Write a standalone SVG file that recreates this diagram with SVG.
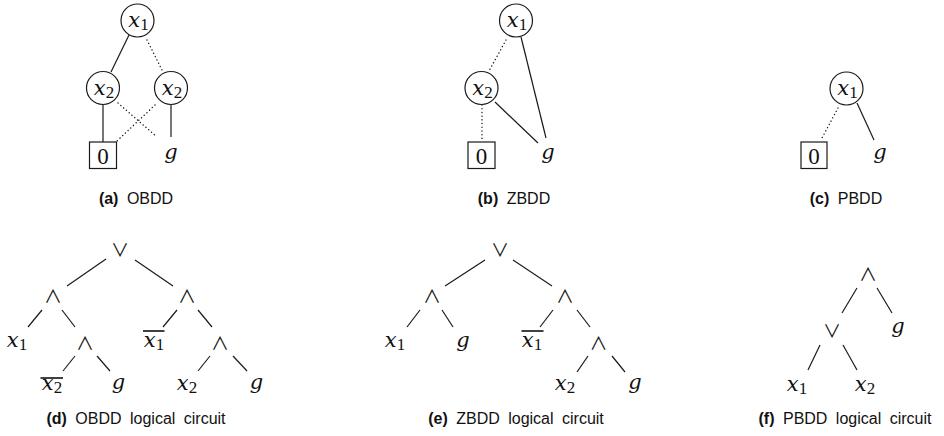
<svg xmlns="http://www.w3.org/2000/svg" width="944" height="436" viewBox="0 0 944 436">
<style>
.e{stroke:#1a1a1a;stroke-width:1.2;fill:none}
.d{stroke:#1a1a1a;stroke-width:1.4;stroke-dasharray:0.1 3.6;stroke-linecap:round;fill:none}
.n{fill:#fff;stroke:#1a1a1a;stroke-width:1.2}
.ob{stroke:#111;stroke-width:1.6}
.m{font-family:"DejaVu Serif",serif;font-style:italic;font-size:21px;fill:#111;text-anchor:middle}
.s{font-family:"Liberation Serif",serif;font-style:normal;font-size:17px}
.z{font-family:"Liberation Serif",serif;font-size:23px;fill:#111;text-anchor:middle}
.op{font-family:"Noto Sans CJK JP",sans-serif;font-size:18px;fill:#111;text-anchor:middle}
.cap{font-family:"Liberation Sans",sans-serif;font-size:16px;fill:#111;text-anchor:middle;word-spacing:4px}
.b{font-weight:bold}
</style>
<g id="connectors">
<!-- (a) -->
<line class="e" x1="129" y1="35" x2="111" y2="72"/>
<line class="d" x1="147" y1="40" x2="163" y2="72"/>
<line class="e" x1="103" y1="105" x2="103" y2="142"/>
<line class="e" x1="171" y1="105" x2="171" y2="137"/>
<line class="d" x1="118" y1="103" x2="157" y2="137"/>
<line class="d" x1="155" y1="105" x2="117" y2="141"/>
<!-- (b) -->
<line class="d" x1="506" y1="40" x2="489" y2="71"/>
<line class="e" x1="521" y1="37" x2="546" y2="138"/>
<line class="e" x1="495" y1="102" x2="538" y2="143"/>
<line class="d" x1="482" y1="105" x2="482" y2="140"/>
<!-- (c) -->
<line class="d" x1="838" y1="108" x2="822" y2="138"/>
<line class="e" x1="857" y1="103" x2="874" y2="140"/>
<!-- (d) -->
<line class="e" x1="106" y1="259" x2="67" y2="286"/>
<line class="e" x1="135" y1="260" x2="173" y2="286"/>
<line class="e" x1="42" y1="310" x2="28" y2="327"/>
<line class="e" x1="62" y1="310" x2="75" y2="327"/>
<line class="e" x1="75" y1="356" x2="63" y2="371"/>
<line class="e" x1="97" y1="356" x2="110" y2="371"/>
<line class="e" x1="177" y1="310" x2="163" y2="327"/>
<line class="e" x1="198" y1="310" x2="212" y2="327"/>
<line class="e" x1="210" y1="356" x2="198" y2="371"/>
<line class="e" x1="233" y1="356" x2="247" y2="371"/>
<!-- (e) -->
<line class="e" x1="485" y1="260" x2="445" y2="286"/>
<line class="e" x1="513" y1="260" x2="552" y2="286"/>
<line class="e" x1="420" y1="310" x2="407" y2="327"/>
<line class="e" x1="442" y1="310" x2="453" y2="327"/>
<line class="e" x1="553" y1="310" x2="540" y2="327"/>
<line class="e" x1="577" y1="310" x2="590" y2="327"/>
<line class="e" x1="588" y1="356" x2="577" y2="372"/>
<line class="e" x1="612" y1="356" x2="625" y2="372"/>
<!-- (f) -->
<line class="e" x1="857" y1="288" x2="842" y2="313"/>
<line class="e" x1="877" y1="288" x2="892" y2="313"/>
<line class="e" x1="820" y1="345" x2="808" y2="370"/>
<line class="e" x1="843" y1="345" x2="857" y2="370"/>
</g>
<!-- (a) OBDD -->
<g id="a-x1"><circle class="n" cx="137.5" cy="20.5" r="16.5"/><text class="m" x="138.5" y="27">x<tspan class="s" dy="3">1</tspan></text></g>
<g id="a-x2l"><circle class="n" cx="103" cy="88" r="16.5"/><text class="m" x="104" y="94.5">x<tspan class="s" dy="3">2</tspan></text></g>
<g id="a-x2r"><circle class="n" cx="171" cy="88" r="16.5"/><text class="m" x="172" y="94.5">x<tspan class="s" dy="3">2</tspan></text></g>
<g id="a-0"><rect class="n" x="89.5" y="142" width="27" height="26.5"/><text class="z" x="103" y="163.5">0</text></g>
<g id="a-g"><text class="m" x="171" y="159">g</text></g>
<g id="a-cap"><text class="cap" x="136" y="204"><tspan class="b">(a)</tspan> OBDD</text></g>
<!-- (b) ZBDD -->
<g id="b-x1"><circle class="n" cx="516" cy="20.5" r="16.5"/><text class="m" x="517" y="27">x<tspan class="s" dy="3">1</tspan></text></g>
<g id="b-x2"><circle class="n" cx="481.5" cy="88" r="16.5"/><text class="m" x="482.5" y="94.5">x<tspan class="s" dy="3">2</tspan></text></g>
<g id="b-0"><rect class="n" x="468" y="142" width="27" height="26.5"/><text class="z" x="481.5" y="163.5">0</text></g>
<g id="b-g"><text class="m" x="548" y="159">g</text></g>
<g id="b-cap"><text class="cap" x="514" y="204"><tspan class="b">(b)</tspan> ZBDD</text></g>
<!-- (c) PBDD -->
<g id="c-x1"><circle class="n" cx="846.5" cy="88.5" r="16.5"/><text class="m" x="847.5" y="95">x<tspan class="s" dy="3">1</tspan></text></g>
<g id="c-0"><rect class="n" x="801" y="142" width="26" height="26.5"/><text class="z" x="814" y="163.5">0</text></g>
<g id="c-g"><text class="m" x="880" y="159">g</text></g>
<g id="c-cap"><text class="cap" x="846" y="204"><tspan class="b">(c)</tspan> PBDD</text></g>
<!-- (d) OBDD circuit -->
<g id="d-or"><text class="op" x="120" y="257">∨</text></g>
<g id="d-and1"><text class="op" x="53" y="303">∧</text></g>
<g id="d-x1"><text class="m" x="17" y="347">x<tspan class="s" dy="3">1</tspan></text></g>
<g id="d-and2"><text class="op" x="85" y="350">∧</text></g>
<g id="d-nx2"><text class="m" x="52" y="390">x<tspan class="s" dy="3">2</tspan></text><line class="ob" x1="40.5" y1="378" x2="63" y2="378"/></g>
<g id="d-g1"><text class="m" x="118.5" y="389">g</text></g>
<g id="d-and3"><text class="op" x="187" y="303">∧</text></g>
<g id="d-nx1"><text class="m" x="154" y="347">x<tspan class="s" dy="3">1</tspan></text><line class="ob" x1="143" y1="331" x2="164.5" y2="331"/></g>
<g id="d-and4"><text class="op" x="220" y="350">∧</text></g>
<g id="d-x2"><text class="m" x="187" y="390">x<tspan class="s" dy="3">2</tspan></text></g>
<g id="d-g2"><text class="m" x="256.5" y="389">g</text></g>
<g id="d-cap"><text class="cap" x="136" y="424"><tspan class="b">(d)</tspan> OBDD logical circuit</text></g>
<!-- (e) ZBDD circuit -->
<g id="e-or"><text class="op" x="500" y="257">∨</text></g>
<g id="e-and1"><text class="op" x="432" y="303">∧</text></g>
<g id="e-x1"><text class="m" x="395" y="347">x<tspan class="s" dy="3">1</tspan></text></g>
<g id="e-g1"><text class="m" x="463" y="347">g</text></g>
<g id="e-and2"><text class="op" x="565" y="303">∧</text></g>
<g id="e-nx1"><text class="m" x="532" y="347">x<tspan class="s" dy="3">1</tspan></text><line class="ob" x1="521.5" y1="331" x2="543.5" y2="331"/></g>
<g id="e-and3"><text class="op" x="598.5" y="350">∧</text></g>
<g id="e-x2"><text class="m" x="565" y="390">x<tspan class="s" dy="3">2</tspan></text></g>
<g id="e-g2"><text class="m" x="635" y="389">g</text></g>
<g id="e-cap"><text class="cap" x="516" y="424"><tspan class="b">(e)</tspan> ZBDD logical circuit</text></g>
<!-- (f) PBDD circuit -->
<g id="f-and"><text class="op" x="868" y="281">∧</text></g>
<g id="f-or"><text class="op" x="832" y="338">∨</text></g>
<g id="f-g"><text class="m" x="898" y="333">g</text></g>
<g id="f-x1"><text class="m" x="797" y="391">x<tspan class="s" dy="3">1</tspan></text></g>
<g id="f-x2"><text class="m" x="865" y="391">x<tspan class="s" dy="3">2</tspan></text></g>
<g id="f-cap"><text class="cap" x="845" y="424"><tspan class="b">(f)</tspan> PBDD logical circuit</text></g>
</svg>
